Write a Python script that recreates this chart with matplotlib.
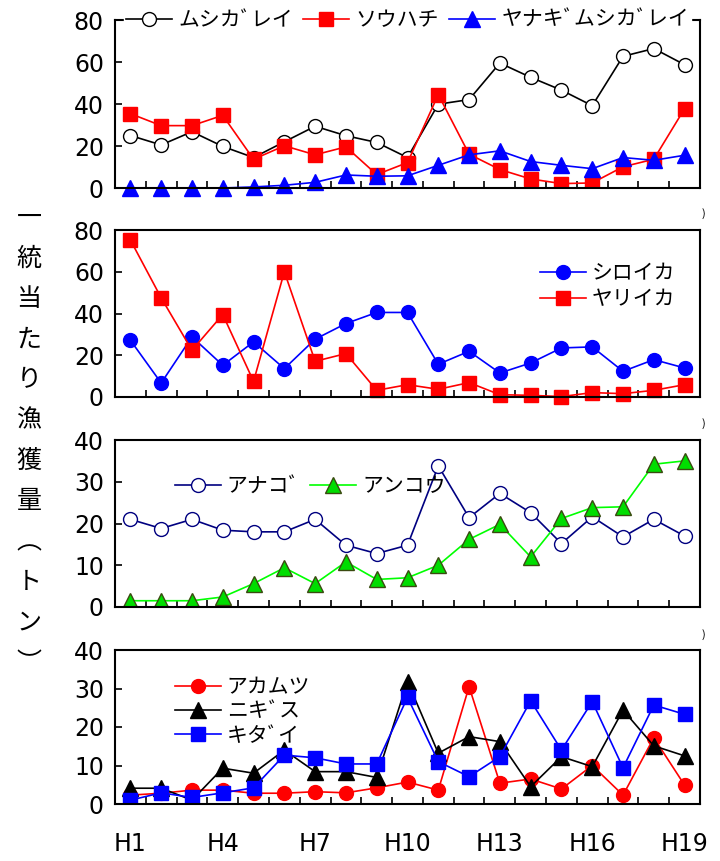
import numpy as np
import matplotlib
matplotlib.use('Agg')
from matplotlib import pyplot as plt

plt.rcParams['font.family'] = ['Noto Sans CJK JP', 'DejaVu Sans']

years = np.arange(1, 20)
year_labels = ['H1', 'H4', 'H7', 'H10', 'H13', 'H16', 'H19']
year_label_pos = [1, 4, 7, 10, 13, 16, 19]

# panel 1
mushigarei = [25, 20.5, 26.8, 19.8, 14.5, 22, 29.4, 24.9, 21.7, 14.5,
              39.9, 42.1, 59.5, 52.7, 46.6, 39.2, 62.7, 66.4, 58.7]
souhachi = [35.4, 29.7, 29.7, 34.6, 13.7, 20.1, 15.8, 19.6, 6.4, 12.1,
            44.5, 16.1, 8.8, 4.3, 2.1, 2.4, 10.1, 13.7, 37.8]
yanagi = [0, 0, 0, 0, 0.5, 1.3, 2.7, 6.2, 5.6, 5.8,
          10.8, 15.8, 17.7, 12.6, 10.8, 9.2, 14.5, 13.2, 15.6]

# panel 2
shiroika = [27.2, 6.7, 28.8, 15.2, 26.4, 13.6, 27.7, 35.2, 40.5, 40.5,
            15.7, 21.9, 11.5, 16.3, 23.5, 24, 12.3, 17.9, 13.9]
yariika = [75.2, 47.5, 22.4, 39.5, 7.5, 60, 17.1, 20.8, 3.2, 5.9,
           3.7, 6.9, 1.1, 0.8, 0.2, 2.1, 1.6, 3.2, 5.9]

# panel 3
anago = [21.0, 18.8, 21.0, 18.4, 18.0, 18.0, 21.0, 14.8, 12.8, 14.8,
         33.8, 21.4, 27.2, 22.6, 15.2, 21.6, 16.8, 21.0, 17.0]
ankou = [1.5, 1.5, 1.5, 2.4, 5.6, 9.4, 5.6, 10.8, 6.6, 7.0,
         10.0, 16.2, 19.8, 12.0, 21.2, 23.8, 24.0, 34.2, 35.0]

# panel 4
akamutsu = [2.3, 2.8, 3.6, 3.6, 2.8, 2.8, 3.2, 2.9, 4.2, 5.7,
            3.6, 30.5, 5.4, 6.5, 3.9, 10.0, 2.3, 17.2, 4.9]
nigisu = [4.1, 4.1, 1.0, 9.3, 8.0, 14.0, 8.4, 8.4, 6.9, 31.8,
          13.2, 17.5, 16.2, 4.5, 12.3, 9.7, 24.4, 15.1, 12.5]
kidai = [1.0, 2.9, 1.7, 2.9, 4.2, 12.7, 12.0, 10.4, 10.4, 27.7,
         11.0, 7.1, 12.3, 26.8, 14.0, 26.6, 9.4, 25.7, 23.3]

ylabel_chars = ['一', '統', '当', 'た', 'り', '漁', '獲', '量', '︵', 'ト', 'ン', '︶']

num_font = ['Liberation Sans Narrow', 'DejaVu Sans']

fig = plt.figure(figsize=(7.2, 8.61), dpi=100)

W, H = 720.0, 861.0
left, right = 115, 700
boxes = [(20, 188), (230, 397), (440, 607), (650, 804)]
axes = []
for top, bot in boxes:
    ax = fig.add_axes([left / W, 1 - bot / H, (right - left) / W, (bot - top) / H])
    axes.append(ax)

lw = 1.2
ms = 10

def style(ax, ymax, step, show_x=False):
    ax.set_xlim(0.5, 19.5)
    ax.set_ylim(0, ymax)
    ax.set_yticks(np.arange(0, ymax + 1, step))
    ax.set_xticks(np.arange(1.5, 19, 1))
    ax.set_xticklabels([])
    ax.tick_params(which='major', direction='in', length=5, width=1.2,
                   labelsize=17, pad=8)
    if show_x:
        ax.set_xticks(year_label_pos, year_labels, minor=True)
        ax.tick_params(which='minor', axis='x', length=0, labelsize=17, pad=20)
        for lab in ax.get_xticklabels(minor=True):
            lab.set_family(num_font)
    for sp in ax.spines.values():
        sp.set_linewidth(1.5)
    for lab in ax.get_yticklabels():
        lab.set_family(num_font)

ax1, ax2, ax3, ax4 = axes

ax1.plot(years, mushigarei, color='black', lw=lw, marker='o', ms=ms,
         mfc='white', mec='black', label='ムシカﾞレイ')
ax1.plot(years, souhachi, color='red', lw=lw, marker='s', ms=ms,
         mfc='red', mec='red', label='ソウハチ')
ax1.plot(years, yanagi, color='blue', lw=lw, marker='^', ms=ms + 1,
         mfc='blue', mec='blue', label='ヤナキﾞムシカﾞレイ', clip_on=False)
style(ax1, 80, 20)
leg = ax1.legend(loc='center', bbox_to_anchor=(0.5, 1.0), ncol=3, fontsize=15,
                 frameon=True, fancybox=False, edgecolor='white', facecolor='white',
                 framealpha=1, handlelength=2.2, handletextpad=0.3,
                 columnspacing=0.5, borderpad=0.1, borderaxespad=0)
leg.set_zorder(5)

ax2.plot(years, shiroika, color='blue', lw=lw, marker='o', ms=ms,
         mfc='blue', mec='blue', label='シロイカ')
ax2.plot(years, yariika, color='red', lw=lw, marker='s', ms=ms,
         mfc='red', mec='red', label='ヤリイカ', clip_on=False)
style(ax2, 80, 20)
ax2.legend(loc='upper right', bbox_to_anchor=(0.99, 0.92), fontsize=15,
           frameon=False, handlelength=2.2, handletextpad=0.3, labelspacing=0.2)

ax3.plot(years, anago, color='#000080', lw=lw, marker='o', ms=ms,
         mfc='white', mec='#000080', label='アナコﾞ')
ax3.plot(years, ankou, color='#00ff00', lw=lw, marker='^', ms=ms + 1,
         mfc='#00dd00', mec='#3a4a10', label='アンコウ')
style(ax3, 40, 10)
ax3.legend(loc='upper left', bbox_to_anchor=(0.07, 0.9), ncol=2, fontsize=15,
           frameon=False, handlelength=2.2, handletextpad=0.3, columnspacing=0.5)

ax4.plot(years, akamutsu, color='red', lw=lw, marker='o', ms=ms,
         mfc='red', mec='red', label='アカムツ')
ax4.plot(years, nigisu, color='black', lw=lw, marker='^', ms=ms + 1,
         mfc='black', mec='black', label='ニキﾞス')
ax4.plot(years, kidai, color='blue', lw=lw, marker='s', ms=ms,
         mfc='blue', mec='blue', label='キタﾞイ')
style(ax4, 40, 10, show_x=True)
ax4.legend(loc='upper left', bbox_to_anchor=(0.07, 0.95), fontsize=15,
           frameon=False, handlelength=2.2, handletextpad=0.3, labelspacing=0.1)

for ax in (ax2, ax3, ax4):
    ax.text(1.003, 1.1, ')', transform=ax.transAxes, fontsize=8,
            ha='left', va='center')

# vertical y label, one character per line
y0, dy = 1 - 218 / H, 40.5 / H
for i, ch in enumerate(ylabel_chars):
    fig.text(29 / W, y0 - i * dy, ch, fontsize=18, ha='center', va='center')

fig.savefig('out.png', dpi=100)
